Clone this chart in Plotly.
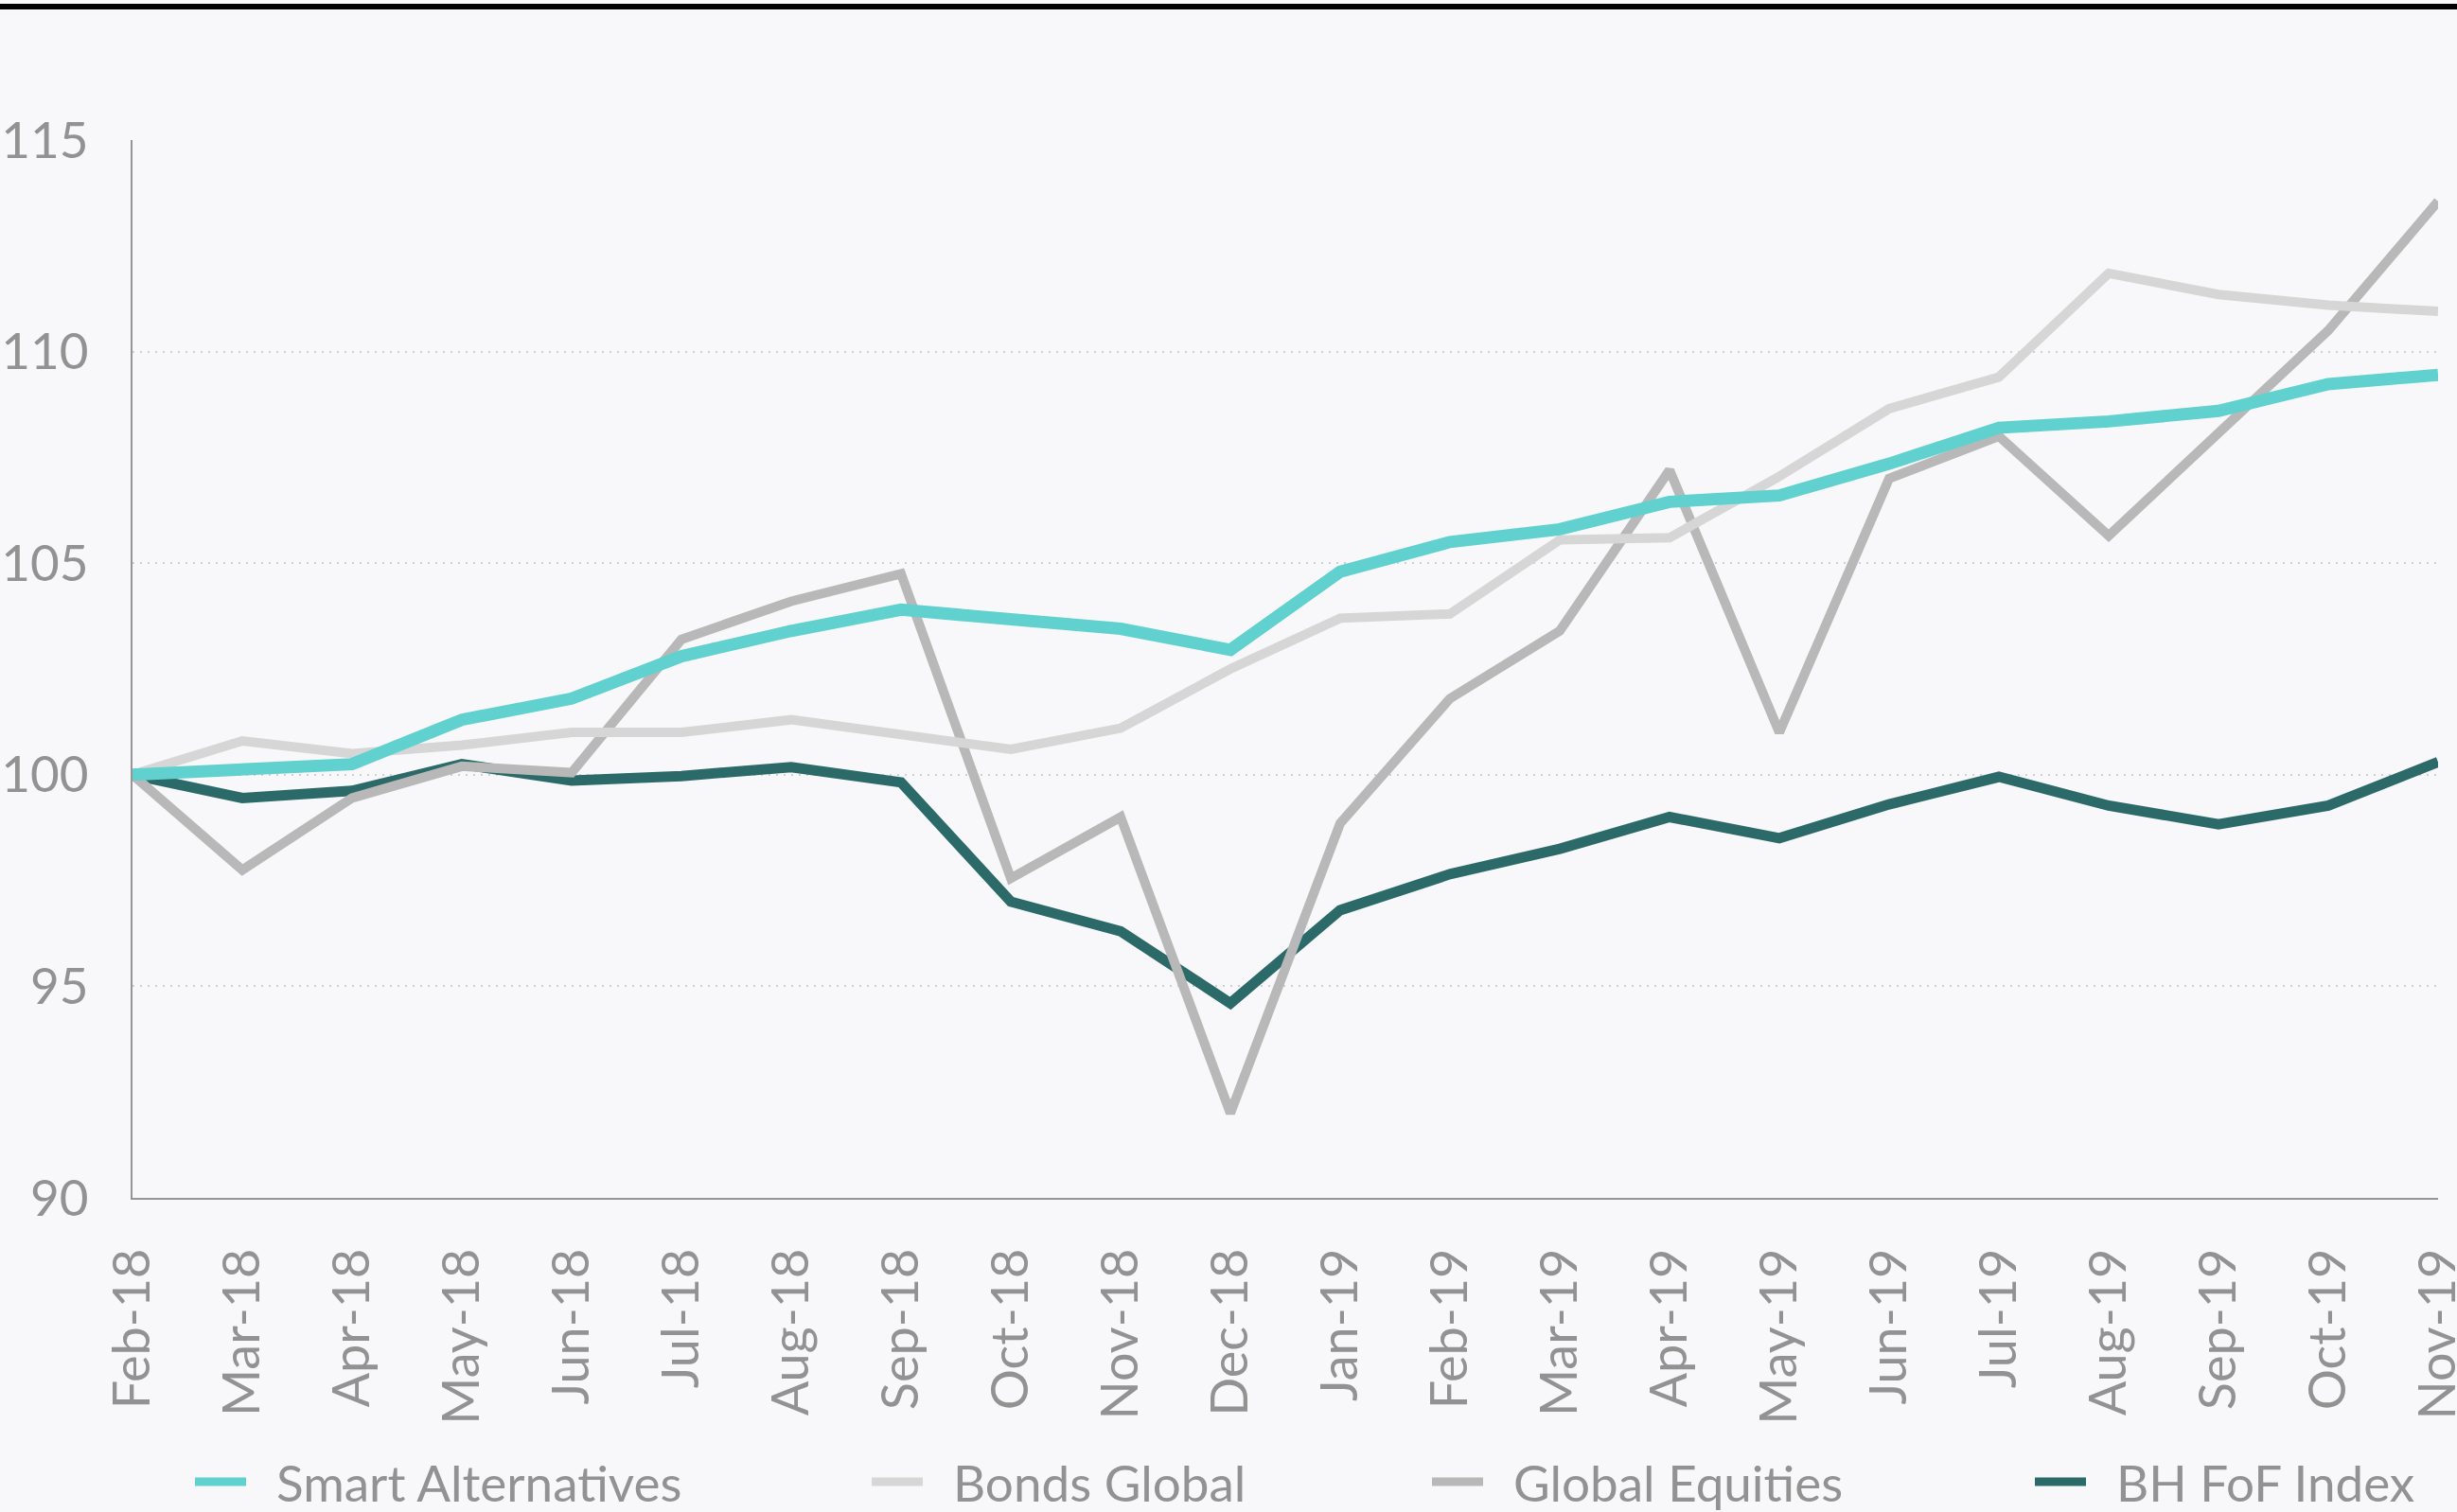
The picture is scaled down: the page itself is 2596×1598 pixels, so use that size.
import plotly.graph_objects as go

months = ["Feb-18", "Mar-18", "Apr-18", "May-18", "Jun-18", "Jul-18", "Aug-18", "Sep-18",
          "Oct-18", "Nov-18", "Dec-18", "Jan-19", "Feb-19", "Mar-19", "Apr-19", "May-19",
          "Jun-19", "Jul-19", "Aug-19", "Sep-19", "Oct-19", "Nov-19"]

smart_alternatives = [100.0, 100.1, 100.25, 101.3, 101.8, 102.8, 103.4, 103.9, 103.65, 103.45,
                      102.95, 104.8, 105.5, 105.8, 106.45, 106.6, 107.35, 108.2, 108.35, 108.6,
                      109.23, 109.45]
bonds_global = [100.0, 100.8, 100.5, 100.7, 101.0, 101.0, 101.3, 100.95, 100.6, 101.1,
                102.5, 103.7, 103.8, 105.55, 105.6, 107.05, 108.65, 109.4, 111.85, 111.35,
                111.1, 110.95]
global_equities = [100.0, 97.75, 99.45, 100.2, 100.05, 103.2, 104.1, 104.75, 97.55, 99.0,
                   92.0, 98.85, 101.8, 103.4, 107.2, 101.0, 107.0, 108.0, 105.65, 108.1,
                   110.5, 113.55]
bh_fof_index = [100.0, 99.45, 99.62, 100.25, 99.86, 99.97, 100.18, 99.82, 97.0, 96.3,
                94.6, 96.8, 97.65, 98.25, 99.0, 98.5, 99.3, 99.95, 99.27, 98.83,
                99.27, 100.3]

y_ticks = [90, 95, 100, 105, 110, 115]

series = [
    ("BH FoF Index", bh_fof_index, "#2B6A68", 11),
    ("Global Equities", global_equities, "#B8B8B8", 10),
    ("Bonds Global", bonds_global, "#D6D6D6", 10),
    ("Smart Alternatives", smart_alternatives, "#60D1CE", 13),
]
legend_order = ["Smart Alternatives", "Bonds Global", "Global Equities", "BH FoF Index"]

W, H = 2596, 1598
L, R, T, B = 140, 20, 148, 332
PW, PH = W - L - R, H - T - B
TXT = "#929292"
FONT = "Lato"

fig = go.Figure()
for name, vals, color, width in series:
    fig.add_trace(go.Scatter(x=months, y=vals, mode="lines", name=name,
                             line=dict(color=color, width=width), showlegend=False))

def px_x(p):
    return (p - L) / PW

def px_y(p):
    return (H - B - p) / PH

shapes = [
    dict(type="line", xref="paper", yref="paper", x0=px_x(0), x1=px_x(W),
         y0=px_y(7), y1=px_y(7), line=dict(color="#000000", width=6)),
]
annotations = []
colors = {n: c for n, _, c, _ in series}
legend_x = [206, 921, 1513, 2150]
leg_y = 1566
for name, x0 in zip(legend_order, legend_x):
    shapes.append(dict(type="line", xref="paper", yref="paper", x0=px_x(x0), x1=px_x(x0 + 54),
                       y0=px_y(leg_y), y1=px_y(leg_y), line=dict(color=colors[name], width=9)))
    annotations.append(dict(xref="paper", yref="paper", x=px_x(x0 + 84), y=px_y(leg_y),
                            xanchor="left", yanchor="middle", text=name, showarrow=False,
                            font=dict(family=FONT, size=53, color=TXT)))

fig.update_layout(
    width=W, height=H,
    margin=dict(l=L, r=R, t=T, b=B, pad=0, autoexpand=False),
    paper_bgcolor="#F8F8FA", plot_bgcolor="#F8F8FA",
    shapes=shapes, annotations=annotations,
    showlegend=False,
    font=dict(family=FONT, color=TXT),
)
fig.update_xaxes(type="category", range=[0, len(months) - 1], tickangle=-90,
                 showline=True, linecolor="#959595", linewidth=2, showgrid=False,
                 ticks="", ticklabelstandoff=30, automargin=False,
                 tickfont=dict(family=FONT, size=54, color=TXT))
fig.update_yaxes(range=[90, 115], tickvals=y_ticks, showline=True, linecolor="#959595",
                 linewidth=2, showgrid=True, gridcolor="#CFCFCF", gridwidth=2,
                 griddash="2px,6px", zeroline=False, ticks="", ticklabelstandoff=34,
                 automargin=False,
                 tickfont=dict(family=FONT, size=53, color=TXT))

fig.write_html("out.html")
